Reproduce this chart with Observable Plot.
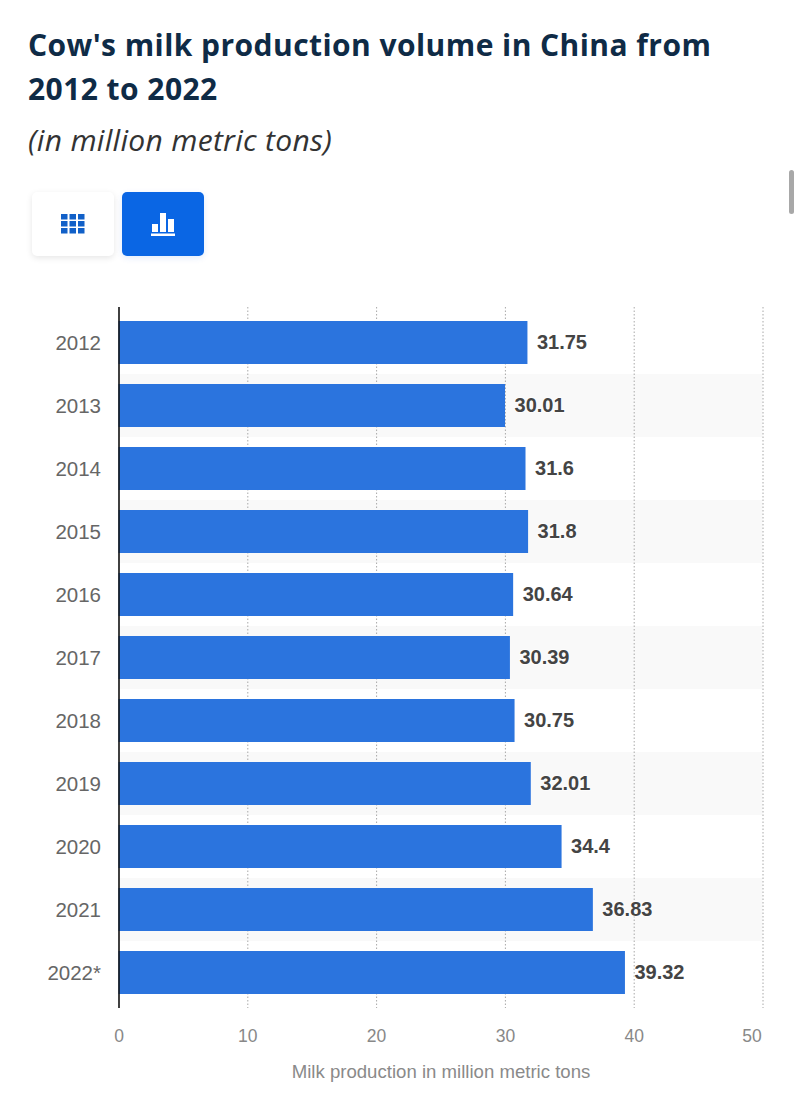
<!DOCTYPE html>
<html><head><meta charset="utf-8">
<script src="https://cdn.jsdelivr.net/npm/d3@7"></script>
<script src="https://cdn.jsdelivr.net/npm/@observablehq/plot@0.6"></script>
<style>
html,body{margin:0;padding:0;background:#fff;width:800px;height:1113px;overflow:hidden}
#page{position:relative;width:800px;height:1113px}
h1{position:absolute;left:28px;top:23px;margin:0;width:750px;font:700 30px/43.5px "Open Sans",sans-serif;letter-spacing:.44px;color:#0f2b46}
h2{position:absolute;left:28px;top:120px;margin:0;font:italic 400 30px/40px "Open Sans",sans-serif;letter-spacing:.3px;color:#333}
.btn{position:absolute;top:192px;width:82px;height:64px;border-radius:5px;display:flex;align-items:center;justify-content:center}
#b1{left:32px;background:#fff;box-shadow:0 2px 6px rgba(0,0,0,.10)}
#b2{left:122px;background:#0a66e4;box-shadow:0 2px 6px rgba(10,102,228,.12)}
#scroll{position:absolute;left:789px;top:170px;width:5px;height:44px;background:#a8a8a8;border-radius:3px}
#chart{position:absolute;left:0;top:290px}
#chart svg{display:block}
</style></head><body>
<div id="page">
<h1>Cow's milk production volume in China from 2012 to 2022</h1>
<h2>(in million metric tons)</h2>
<div class="btn" id="b1"><svg width="24" height="20" viewBox="0 0 24 20" fill="#1160c8"><path d="M0 0h6.500v5.500H0zM8.500 0h6.500v5.500H8.500zM17 0h6.500v5.500H17zM0 7h6.500v5.500H0zM8.500 7h6.500v5.500H8.500zM17 7h6.500v5.500H17zM0 14h6.500v5.500H0zM8.500 14h6.500v5.500H8.500zM17 14h6.500v5.500H17z"/></svg></div>
<div class="btn" id="b2"><svg width="24" height="24" viewBox="0 0 24 24" fill="#fff"><path d="M1 12h6v8H1zM9 1h6v19H9zM17 7h6v13h-6zM0 21.500h24V24H0z"/></svg></div>
<div id="scroll"></div>
<div id="chart"></div>
</div>
<script>
const years = ["2012","2013","2014","2015","2016","2017","2018","2019","2020","2021","2022*"];
const production = [31.75,30.01,31.6,31.8,30.64,30.39,30.75,32.01,34.4,36.83,39.32];
const valueLabels = ["31.75","30.01","31.6","31.8","30.64","30.39","30.75","32.01","34.4","36.83","39.32"];
const shadedYears = ["2013","2015","2017","2019","2021"];
const axisTicks = [0,10,20,30,40];
const lastTick = [50];
const gridTicks = [10,20,30,40,50];
const xTitle = "Milk production in million metric tons";
const rows = years.map((y,i)=>({year:y,value:production[i],label:valueLabels[i]}));

const plot = Plot.plot({
  width:800,height:810,
  marginTop:17,marginBottom:92,marginLeft:118.5,marginRight:37.5,
  style:{background:"transparent",fontFamily:"'Liberation Sans',Arial,sans-serif"},
  x:{domain:[0,50],label:null},
  y:{domain:years,paddingInner:0.31,paddingOuter:0.14,label:null},
  marks:[
    Plot.barX(shadedYears,{x1:()=>0,x2:()=>50,y:d=>d,fill:"#f9f9f9",insetTop:-9.9,insetBottom:-9.9}),
    Plot.ruleX(gridTicks,{x:d=>d,stroke:"#a8a8a8",strokeWidth:1,strokeDasharray:"1.5,2"}),
    Plot.barX(rows,{x1:()=>0,x2:"value",y:"year",fill:"#2b74de"}),
    Plot.ruleX([0],{stroke:"#111",strokeWidth:1.6}),
    Plot.text(rows,{x:"value",y:"year",text:"label",textAnchor:"start",dx:9,fontSize:20,fontWeight:700,fill:"#444",stroke:"#fff",strokeWidth:2,strokeOpacity:.7,paintOrder:"stroke"}),
    Plot.axisY({tickSize:0,tickPadding:18,fontSize:20.500,label:null,fill:"#666"}),
    Plot.axisX(axisTicks,{tickSize:0,tickPadding:21,fontSize:17.500,fill:"#888",label:null}),
    Plot.axisX(lastTick,{tickSize:0,tickPadding:21,fontSize:17.500,fill:"#888",label:null,dx:-11}),
    Plot.text([xTitle],{frameAnchor:"bottom",dy:69,x:()=>25,fontSize:18.600,fill:"#8a8a8a"})
  ]
});
document.getElementById("chart").appendChild(plot);
</script>
</body></html>
